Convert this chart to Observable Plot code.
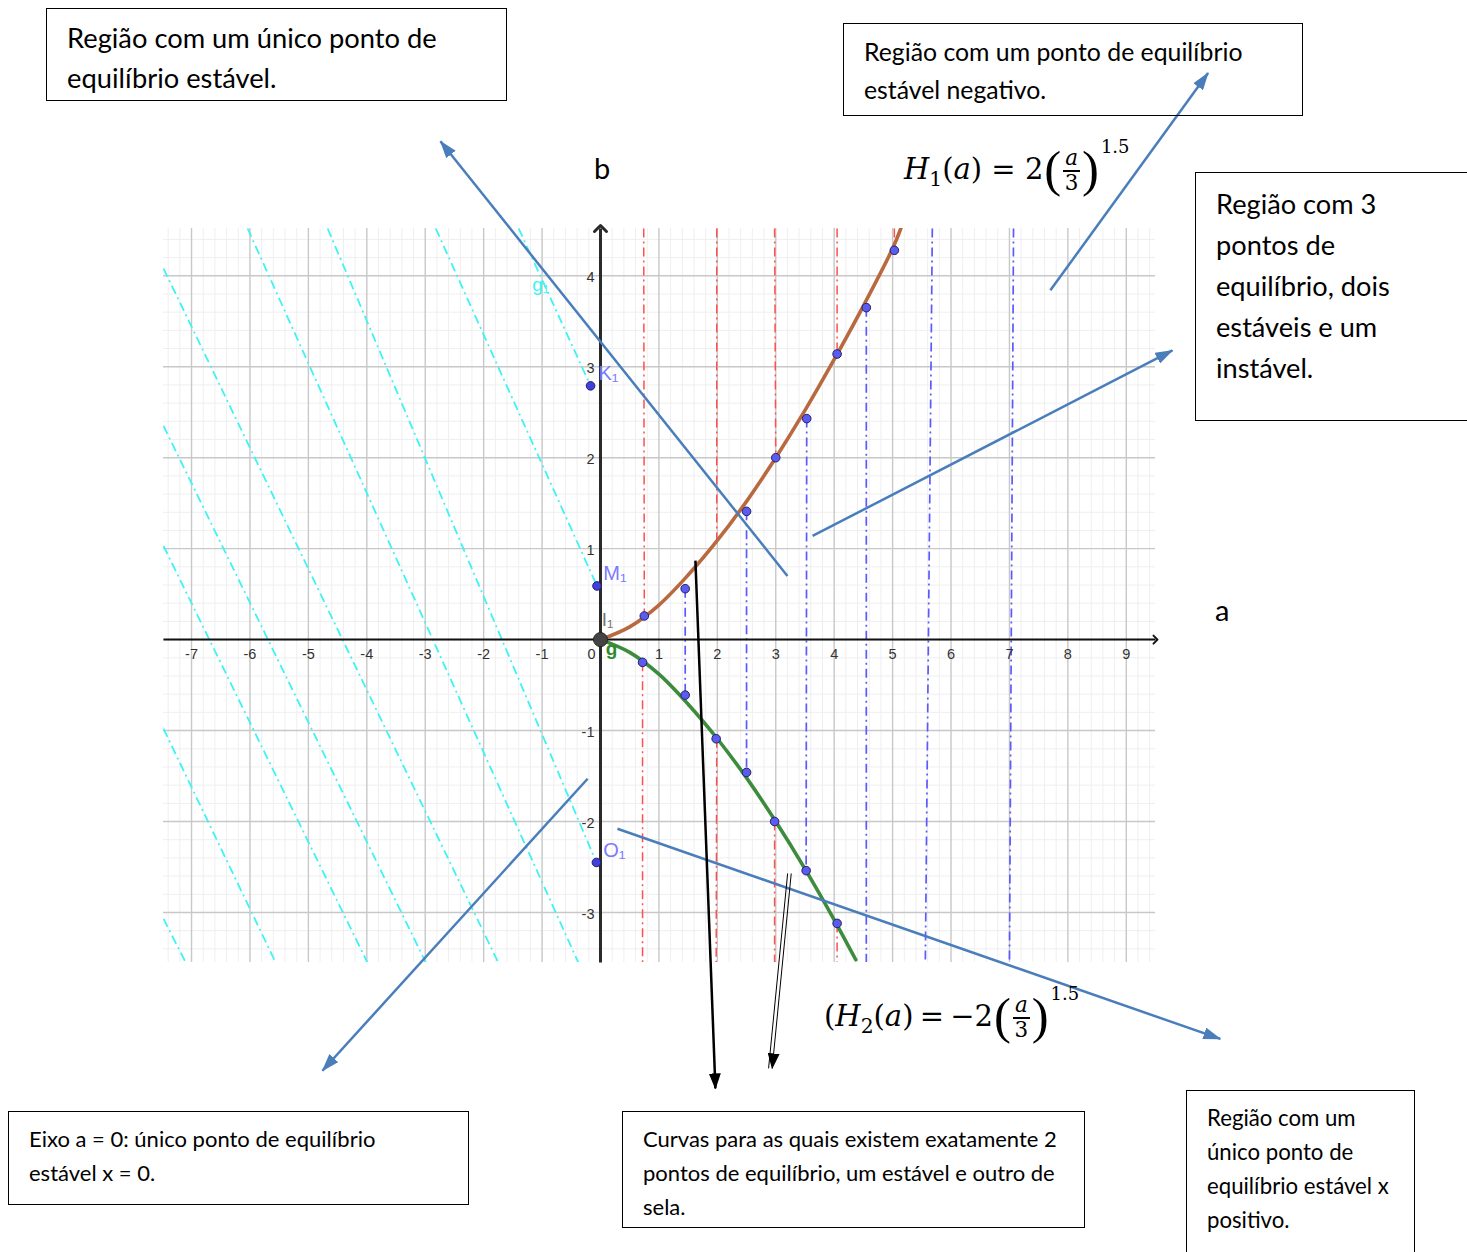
<!DOCTYPE html>
<html><head><meta charset="utf-8">
<script src="https://cdn.jsdelivr.net/npm/d3@7"></script>
<script src="https://cdn.jsdelivr.net/npm/@observablehq/plot@0.6"></script>
<style>
body{margin:0;background:#fff;}
#wrap{position:relative;width:1467px;height:1252px;overflow:hidden;font-family:Lato,"Open Sans",sans-serif;color:#000;}
#wrap svg{position:absolute;left:0;top:0;}
.box{position:absolute;border:1.5px solid #000;box-sizing:border-box;overflow:hidden;padding-left:20px;white-space:nowrap;}
.lbl{position:absolute;white-space:nowrap;}
.math{position:absolute;white-space:nowrap;font-family:"DejaVu Serif","Liberation Serif",serif;font-size:29px;line-height:1;}
.math i{font-style:italic;}
.math sub{font-size:0.7em;vertical-align:-0.35em;}
.math sup{font-size:0.62em;vertical-align:baseline;position:relative;top:-1.42em;font-style:normal;margin-left:1px;}
.paren{display:inline-block;font-family:"Liberation Serif",serif;font-size:1.75em;vertical-align:-0.14em;margin:0 1px;}
.frac{display:inline-block;vertical-align:-0.5em;text-align:center;font-size:0.74em;line-height:1.0;margin:0 1px;}
.frac .num{display:block;border-bottom:2.5px solid #000;padding:0 2px 1px 2px;}
.frac .den{display:block;}
</style>
</head><body>
<div id="wrap">
  <div class="box" style="left:46px;top:8px;width:461px;height:93px;font-size:27.3px;line-height:40px;padding-top:9px;">
    <div>Região com um único ponto de</div><div>equilíbrio estável.</div></div>
  <div class="box" style="left:843px;top:23px;width:460px;height:93px;font-size:24.8px;line-height:38px;padding-top:9px;">
    <div>Região com um ponto de equilíbrio</div><div>estável negativo.</div></div>
  <div class="box" style="left:1195px;top:172px;width:290px;height:249px;font-size:27.2px;line-height:41px;padding-top:10px;">
    <div>Região com 3</div><div>pontos de</div><div>equilíbrio, dois</div><div>estáveis e um</div><div>instável.</div></div>
  <div class="box" style="left:8px;top:1111px;width:461px;height:94px;font-size:22px;line-height:34px;padding-top:10px;">
    <div>Eixo a = 0: único ponto de equilíbrio</div><div>estável x = 0.</div></div>
  <div class="box" style="left:622px;top:1111px;width:463px;height:117px;font-size:22px;line-height:34px;padding-top:10px;">
    <div>Curvas para as quais existem exatamente 2</div><div>pontos de equilíbrio, um estável e outro de</div><div>sela.</div></div>
  <div class="box" style="left:1186px;top:1090px;width:229px;height:180px;font-size:22.2px;line-height:34px;padding-top:10px;">
    <div>Região com um</div><div>único ponto de</div><div>equilíbrio estável x</div><div>positivo.</div></div>
  <div class="lbl" style="left:594px;top:150px;font-size:29px;">b</div>
  <div class="lbl" style="left:1215px;top:592px;font-size:29px;">a</div>
  <div class="math" style="left:904px;top:144px;"><i>H</i><sub>1</sub>(<i>a</i>) = 2<span class="paren">(</span><span class="frac"><span class="num"><i>a</i></span><span class="den">3</span></span><span class="paren">)</span><sup>1.5</sup></div>
  <div class="math" style="left:824px;top:991px;word-spacing:-3px;">(<i>H</i><sub>2</sub>(<i>a</i>) = −2<span class="paren">(</span><span class="frac"><span class="num"><i>a</i></span><span class="den">3</span></span><span class="paren">)</span><sup>1.5</sup></div>
</div>
<script>
// ---- axis ticks ----
const xTicks = [-7,-6,-5,-4,-3,-2,-1,1,2,3,4,5,6,7,8,9];
const xTickLabels = ["-7","-6","-5","-4","-3","-2","-1","1","2","3","4","5","6","7","8","9"];
const yTicks = [-3,-2,-1,1,2,3,4];
const yTickLabels = ["-3","-2","-1","1","2","3","4"];
const xDomain = [-7.48, 9.5];
const yDomain = [-3.55, 4.52];

// ---- bifurcation curves ----
const h1A = [0, 0.5, 1, 1.5, 2, 2.5, 3, 3.5, 4, 4.5, 5, 5.14];
const h1B = [0, 0.14, 0.38, 0.71, 1.09, 1.52, 2.0, 2.52, 3.08, 3.67, 4.30, 4.52];
const h2A = [0, 0.5, 1, 1.5, 2, 2.5, 3, 3.5, 4, 4.37];
const h2B = [0, -0.14, -0.38, -0.71, -1.09, -1.52, -2.0, -2.52, -3.08, -3.52];

// ---- blue points ----
const upperA = [0.75, 1.45, 2.5, 3.0, 3.53, 4.05, 4.55, 5.03];
const upperB = [0.26, 0.56, 1.41, 2.0, 2.43, 3.14, 3.65, 4.28];
const lowerA = [0.72, 1.45, 1.98, 2.5, 2.98, 3.52, 4.05];
const lowerB = [-0.25, -0.61, -1.09, -1.46, -2.0, -2.54, -3.12];
const namedA = [-0.17, -0.06, -0.07];
const namedB = [2.79, 0.59, -2.45];
const namedLabels = ["K₁", "M₁", "O₁"];

// ---- red dash-dot segments (outside the cusp) ----
const redX1 = [0.74, 0.72, 1.99, 1.99, 2.98, 2.98, 4.05, 4.05, 5.03];
const redY1 = [4.52, -0.25, 4.52, -1.09, 4.52, -2.0, 4.52, -3.12, 4.52];
const redX2 = [0.75, 0.72, 1.99, 1.98, 3.0, 2.98, 4.05, 4.05, 5.03];
const redY2 = [0.26, -3.55, 1.09, -3.55, 2.0, -3.55, 3.14, -3.55, 4.28];

// ---- blue dash-dot segments ----
const blueX1 = [1.45, 2.5, 3.53, 4.55, 5.68, 7.07];
const blueY1 = [0.56, 1.41, 2.43, 3.65, 4.52, 4.52];
const blueX2 = [1.45, 2.5, 3.52, 4.55, 5.56, 7.0];
const blueY2 = [-0.61, -1.46, -2.54, -3.55, -3.55, -3.55];

// ---- cyan dash-dot lines (a < 0) ----
const cyanX1 = [-7.48, -7.48, -7.48, -7.48, -7.48, -6.04, -4.67, -2.82, -1.40];
const cyanY1 = [4.08, 2.35, 1.03, -0.98, -3.07, 4.52, 4.52, 4.52, 4.52];
const cyanX2 = [-1.75, -2.99, -3.99, -5.56, -7.10, -0.38, -0.07, -0.06, -0.17];
const cyanY2 = [-3.55, -3.55, -3.55, -3.55, -3.55, -3.55, -2.45, 0.59, 2.79];

// ---- annotation arrows (data units) ----
const arrX1 = [3.20, 7.70, 3.63, -0.22, 0.29];
const arrY1 = [0.70, 3.84, 1.14, -1.53, -2.08];
const arrX2 = [-2.74, 10.40, 9.79, -4.76, 10.61];
const arrY2 = [5.48, 6.23, 3.18, -4.74, -4.39];
const blackX1 = [1.625], blackY1 = [0.868], blackX2 = [1.967], blackY2 = [-4.934];
const dblX1 = [3.234], dblY1 = [-2.571], dblX2 = [2.908], dblY2 = [-4.714];

const seg = (x1, y1, x2, y2) => x1.map((d, i) => ({x1: d, y1: y1[i], x2: x2[i], y2: y2[i]}));
const pts = (a, b) => a.map((d, i) => ({a: d, b: b[i]}));

const minorX = d3.range(-74, 96, 2).map(v => v / 10).filter(v => Math.abs(v - Math.round(v)) > 1e-6);
const minorY = d3.range(-34, 46, 2).map(v => v / 10).filter(v => Math.abs(v - Math.round(v)) > 1e-6);
const majorX = d3.range(-7, 10);
const majorY = d3.range(-3, 5);

const dash = "9,4,2,4";
const chart = Plot.plot({
  width: 1467, height: 1252,
  marginLeft: 163, marginRight: 312, marginTop: 228, marginBottom: 290,
  x: {domain: xDomain, axis: null},
  y: {domain: yDomain, axis: null},
  style: {background: "transparent", fontFamily: "Arial, 'Liberation Sans', sans-serif", overflow: "visible"},
  marks: [
    Plot.ruleX(minorX, {stroke: "#efefef", strokeWidth: 1}),
    Plot.ruleY(minorY, {stroke: "#efefef", strokeWidth: 1}),
    Plot.ruleX(majorX, {stroke: "#c8c8c8", strokeWidth: 1.4}),
    Plot.ruleY(majorY, {stroke: "#c8c8c8", strokeWidth: 1.4}),
    Plot.link(seg(cyanX1, cyanY1, cyanX2, cyanY2), {x1: "x1", y1: "y1", x2: "x2", y2: "y2", stroke: "#3ff3f3", strokeWidth: 1.8, strokeDasharray: dash, clip: true}),
    Plot.link(seg(redX1, redY1, redX2, redY2), {x1: "x1", y1: "y1", x2: "x2", y2: "y2", stroke: "#ff4f4f", strokeWidth: 1.5, strokeDasharray: dash, clip: true}),
    Plot.link(seg(blueX1, blueY1, blueX2, blueY2), {x1: "x1", y1: "y1", x2: "x2", y2: "y2", stroke: "#5a5aff", strokeWidth: 1.7, strokeDasharray: dash, clip: true}),
    // axes
    Plot.link([{x1: xDomain[0], x2: xDomain[1], y: 0}], {x1: "x1", x2: "x2", y1: "y", y2: "y", stroke: "#111", strokeWidth: 2, markerEnd: "arrow"}),
    Plot.link([{x: 0, y1: yDomain[0], y2: yDomain[1]}], {x1: "x", x2: "x", y1: "y1", y2: "y2", stroke: "#2a2a2a", strokeWidth: 3, markerEnd: "arrow"}),
    Plot.text(xTicks.map((d, i) => ({v: d, t: xTickLabels[i]})), {x: "v", y: 0, text: "t", dy: 15, fontSize: 14.5, fill: "#333"}),
    Plot.text([{v: 0, t: "0"}], {x: "v", y: 0, text: "t", dx: -9, dy: 15, fontSize: 14.5, fill: "#333"}),
    Plot.text(yTicks.map((d, i) => ({v: d, t: yTickLabels[i]})), {x: 0, y: "v", text: "t", dx: -6, dy: 2, textAnchor: "end", fontSize: 14.5, fill: "#333"}),
    // curves
    Plot.line(pts(h1A, h1B), {x: "a", y: "b", stroke: "#b8693f", strokeWidth: 3.6, curve: "catmull-rom", clip: true}),
    Plot.line(pts(h2A, h2B), {x: "a", y: "b", stroke: "#3d8c3d", strokeWidth: 3.6, curve: "catmull-rom", clip: true}),
    // points
    Plot.dot(pts(upperA, upperB), {x: "a", y: "b", r: 4.3, fill: "#5b5bf0", stroke: "#222266", strokeWidth: 1}),
    Plot.dot(pts(lowerA, lowerB), {x: "a", y: "b", r: 4.3, fill: "#5b5bf0", stroke: "#222266", strokeWidth: 1}),
    Plot.dot(pts(namedA, namedB), {x: "a", y: "b", r: 4.3, fill: "#4040e0", stroke: "#222266", strokeWidth: 1}),
    Plot.dot([{a: 0, b: 0}], {x: "a", y: "b", r: 7, fill: "#444", stroke: "#222", strokeWidth: 1}),
    Plot.text(pts(namedA, namedB).map((d, i) => ({...d, t: namedLabels[i]})), {x: "a", y: "b", text: "t", dx: 18, dy: -12, fontSize: 20, fill: "#7a7aff"}),
    Plot.text([{a: 0, b: 0, t: "I₁"}], {x: "a", y: "b", text: "t", dx: 7, dy: -20, fontSize: 19, fill: "#777"}),
    Plot.text([{a: 0, b: 0, t: "g"}], {x: "a", y: "b", text: "t", dx: 11, dy: 9, fontSize: 19, fontWeight: "bold", fill: "#2f8a2f"}),
    Plot.text([{a: -1.4, b: 4.52, t: "g₁"}], {x: "a", y: "b", text: "t", dx: 22, dy: 56, fontSize: 19, fill: "#3ff3f3"}),
    // annotation arrows
    Plot.link(seg(arrX1, arrY1, arrX2, arrY2), {x1: "x1", y1: "y1", x2: "x2", y2: "y2", stroke: "#4a7ebb", strokeWidth: 2.5, ariaDescription: "blue-arrows"}),
    Plot.link(seg(blackX1, blackY1, blackX2, blackY2), {x1: "x1", y1: "y1", x2: "x2", y2: "y2", stroke: "#000", strokeWidth: 2.5, ariaDescription: "black-arrows"}),
    Plot.link(seg(dblX1, dblY1, dblX2, dblY2), {x1: "x1", y1: "y1", x2: "x2", y2: "y2", stroke: "#000", strokeWidth: 1, dx: -1.8}),
    Plot.link(seg(dblX1, dblY1, dblX2, dblY2), {x1: "x1", y1: "y1", x2: "x2", y2: "y2", stroke: "#000", strokeWidth: 1, dx: 1.8, ariaDescription: "black-arrows"})
  ]
});

const root = d3.select(chart);
const defs = root.insert("defs", ":first-child");
function addMarker(id, color, w, h) {
  defs.append("marker").attr("id", id)
    .attr("viewBox", `0 0 ${w} ${h}`).attr("refX", w - 1).attr("refY", h / 2)
    .attr("markerWidth", w).attr("markerHeight", h)
    .attr("markerUnits", "userSpaceOnUse").attr("orient", "auto")
    .append("path").attr("d", `M0,0L${w},${h / 2}L0,${h}Z`).attr("fill", color);
}
addMarker("mBlue", "#4a7ebb", 18, 12);
addMarker("mBlack", "#000", 16, 12);
root.selectAll('g[aria-description="blue-arrows"] path').attr("marker-end", "url(#mBlue)");
root.selectAll('g[aria-description="black-arrows"] path').attr("marker-end", "url(#mBlack)");

document.getElementById("wrap").insertBefore(chart, document.getElementById("wrap").firstChild);
</script>
</body></html>
